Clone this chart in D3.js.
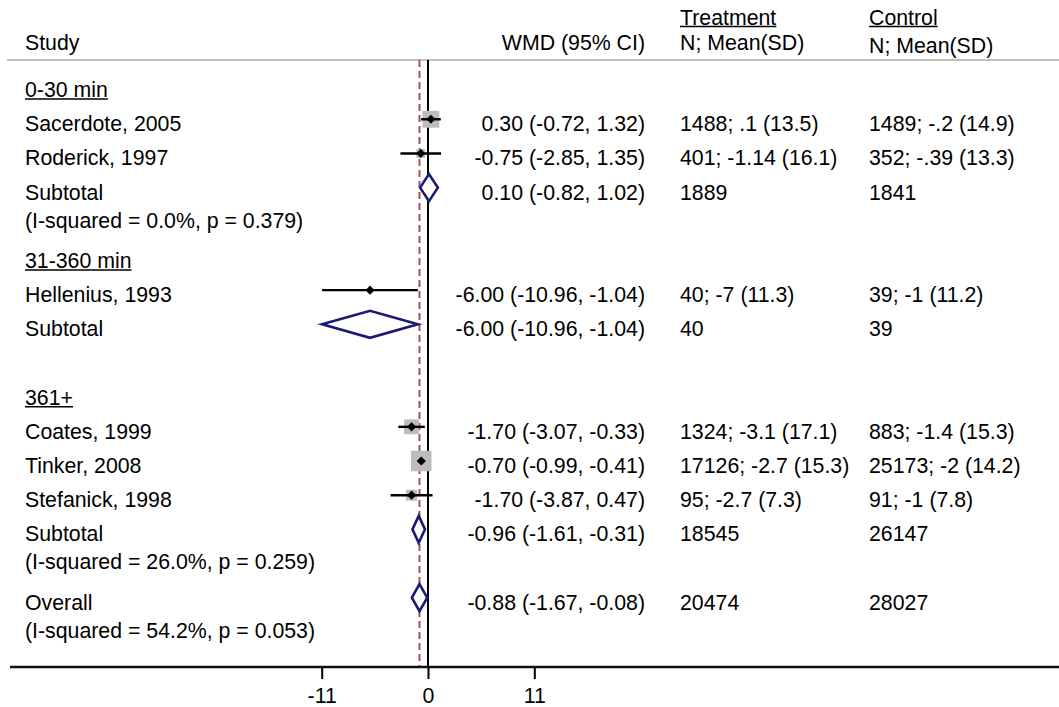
<!DOCTYPE html>
<html><head><meta charset="utf-8">
<script src="https://cdn.jsdelivr.net/npm/d3@7"></script>
<style>
body{margin:0;background:#fff}
svg{display:block}
text{font-family:"Liberation Sans",Arial,sans-serif;font-size:21.3px;fill:#000}
</style>
</head><body><svg id="c" width="1059" height="707"></svg>
<script>
// ---------- data ----------
const studies      = ["Sacerdote, 2005","Roderick, 1997","Hellenius, 1993","Coates, 1999","Tinker, 2008","Stefanick, 1998"];
const studyGroup   = [0,0,1,2,2,2];
const studyWMD     = [0.30,-0.75,-6.00,-1.70,-0.70,-1.70];
const studyLo      = [-0.72,-2.85,-10.96,-3.07,-0.99,-3.87];
const studyHi      = [1.32,1.35,-1.04,-0.33,-0.41,0.47];
const studyWeight  = [25.1,7.0,0.8,19.5,37.1,10.5];
const studyTreat   = ["1488; .1 (13.5)","401; -1.14 (16.1)","40; -7 (11.3)","1324; -3.1 (17.1)","17126; -2.7 (15.3)","95; -2.7 (7.3)"];
const studyCtrl    = ["1489; -.2 (14.9)","352; -.39 (13.3)","39; -1 (11.2)","883; -1.4 (15.3)","25173; -2 (14.2)","91; -1 (7.8)"];
const groups       = ["0-30 min","31-360 min","361+"];
const subWMD       = [0.10,-6.00,-0.96];
const subLo        = [-0.82,-10.96,-1.61];
const subHi        = [1.02,-1.04,-0.31];
const subTreat     = ["1889","40","18545"];
const subCtrl      = ["1841","39","26147"];
const subHet       = ["(I-squared = 0.0%, p = 0.379)","","(I-squared = 26.0%, p = 0.259)"];
const overallWMD   = [-0.88,-1.67,-0.08];
const overallN     = ["20474","28027"];
const overallHet   = "(I-squared = 54.2%, p = 0.053)";
const xTicks       = [-11,0,11];

// ---------- layout ----------
const svg = d3.select("#c");
const W = 1059;
const x = d3.scaleLinear().domain([-11, 11]).range([321.7, 534.3]);
const rowY = d3.scaleLinear().domain([0, 15]).range([85.1, 597.7]);
const boxSize = d3.scaleSqrt().domain([0, d3.max(studyWeight)]).range([0, 20.5]);
const fmt = v => v.toFixed(2);
const ciText = (m,l,h) => `${fmt(m)} (${fmt(l)}, ${fmt(h)})`;

const colStudy = 25, colWMD = 645, colTreat = 680, colCtrl = 869;
const yTop = 60, yAxis = 667;
const navy = "#1a1a72";

// build rows
const rows = [];
let r = 0;
groups.forEach((g, gi) => {
  rows.push({type:"head", label:g, r:r++});
  studies.forEach((s, i) => {
    if (studyGroup[i] === gi) rows.push({type:"study", i, r:r++});
  });
  rows.push({type:"sub", gi, r:r});
  r += 2;
});
rows.push({type:"overall", r:r});

// header
function underline(sel){
  sel.each(function(){
    const t = d3.select(this);
    const bb = this.getBBox();
    const yy = +t.attr("y") + 2;
    svg.append("line").attr("x1", bb.x).attr("x2", bb.x + bb.width)
      .attr("y1", yy).attr("y2", yy).attr("stroke", "#000").attr("stroke-width", 1.5);
  });
}
svg.append("text").attr("x", colStudy).attr("y", 49.5).text("Study");
svg.append("text").attr("x", colWMD).attr("y", 49.5).attr("text-anchor","end").text("WMD (95% CI)");
svg.append("text").attr("x", colTreat).attr("y", 24.5).text("Treatment").call(underline);
svg.append("text").attr("x", colTreat).attr("y", 49.5).text("N; Mean(SD)");
svg.append("text").attr("x", colCtrl).attr("y", 24.5).text("Control").call(underline);
svg.append("text").attr("x", colCtrl).attr("y", 53).text("N; Mean(SD)");

svg.append("line").attr("x1", 7).attr("x2", W).attr("y1", yTop).attr("y2", yTop)
  .attr("stroke", "#c0c0c0").attr("stroke-width", 2);

// reference lines
svg.append("line").attr("x1", x(0)).attr("x2", x(0)).attr("y1", yTop).attr("y2", yAxis)
  .attr("stroke", "#000").attr("stroke-width", 2);
svg.append("line").attr("x1", x(overallWMD[0])).attr("x2", x(overallWMD[0])).attr("y1", yTop).attr("y2", yAxis)
  .attr("stroke", "#a04d55").attr("stroke-width", 1.9).attr("stroke-dasharray", "7,4");

const tb = 12; // baseline offset from row centre
const diamondPath = (m,l,h,y) => `M${x(l)},${y}L${x(m)},${y-13.5}L${x(h)},${y}L${x(m)},${y+13.5}Z`;

rows.forEach(d => {
  const y = rowY(d.r);
  if (d.type === "head") {
    svg.append("text").attr("x", colStudy).attr("y", y + tb).text(d.label).call(underline);
  } else if (d.type === "study") {
    const i = d.i;
    svg.append("text").attr("x", colStudy).attr("y", y + tb).text(studies[i]);
    const s = boxSize(studyWeight[i]);
    svg.append("rect").attr("x", x(studyWMD[i]) - s/2).attr("y", y - s/2)
      .attr("width", s).attr("height", s).attr("fill", "#bcbcbc");
    svg.append("line").attr("x1", x(studyLo[i])).attr("x2", x(studyHi[i]))
      .attr("y1", y).attr("y2", y).attr("stroke", "#000").attr("stroke-width", 2.4);
    svg.append("path").attr("d", d3.symbol(d3.symbolSquare, 42)())
      .attr("transform", `translate(${x(studyWMD[i])},${y}) rotate(45)`).attr("fill", "#000");
    svg.append("text").attr("x", colWMD).attr("y", y + tb).attr("text-anchor","end")
      .text(ciText(studyWMD[i], studyLo[i], studyHi[i]));
    svg.append("text").attr("x", colTreat).attr("y", y + tb).text(studyTreat[i]);
    svg.append("text").attr("x", colCtrl).attr("y", y + tb).text(studyCtrl[i]);
  } else if (d.type === "sub") {
    const g = d.gi;
    svg.append("text").attr("x", colStudy).attr("y", y + tb).text("Subtotal");
    if (subHet[g]) svg.append("text").attr("x", colStudy).attr("y", y + tb + 28).text(subHet[g]);
    svg.append("path").attr("d", diamondPath(subWMD[g], subLo[g], subHi[g], y))
      .attr("fill", "#fff").attr("stroke", navy).attr("stroke-width", 2.6);
    svg.append("text").attr("x", colWMD).attr("y", y + tb).attr("text-anchor","end")
      .text(ciText(subWMD[g], subLo[g], subHi[g]));
    svg.append("text").attr("x", colTreat).attr("y", y + tb).text(subTreat[g]);
    svg.append("text").attr("x", colCtrl).attr("y", y + tb).text(subCtrl[g]);
  } else {
    svg.append("text").attr("x", colStudy).attr("y", y + tb).text("Overall");
    svg.append("text").attr("x", colStudy).attr("y", y + tb + 28).text(overallHet);
    svg.append("path").attr("d", diamondPath(overallWMD[0], overallWMD[1], overallWMD[2], y))
      .attr("fill", "#fff").attr("stroke", navy).attr("stroke-width", 2.6);
    svg.append("text").attr("x", colWMD).attr("y", y + tb).attr("text-anchor","end")
      .text(ciText(overallWMD[0], overallWMD[1], overallWMD[2]));
    svg.append("text").attr("x", colTreat).attr("y", y + tb).text(overallN[0]);
    svg.append("text").attr("x", colCtrl).attr("y", y + tb).text(overallN[1]);
  }
});

// axis
svg.append("line").attr("x1", 10).attr("x2", W).attr("y1", yAxis).attr("y2", yAxis)
  .attr("stroke", "#111").attr("stroke-width", 2.4);
const ax = svg.append("g").attr("transform", `translate(0,${yAxis})`)
  .call(d3.axisBottom(x).tickValues(xTicks).tickSize(12).tickPadding(9).tickFormat(d => String(d)));
ax.select(".domain").remove();
ax.selectAll(".tick line").attr("stroke", "#000").attr("stroke-width", 2);
ax.selectAll(".tick text").attr("font-family", "'DejaVu Sans', sans-serif").attr("font-size", 18).attr("fill", "#000");
</script>
</body></html>
